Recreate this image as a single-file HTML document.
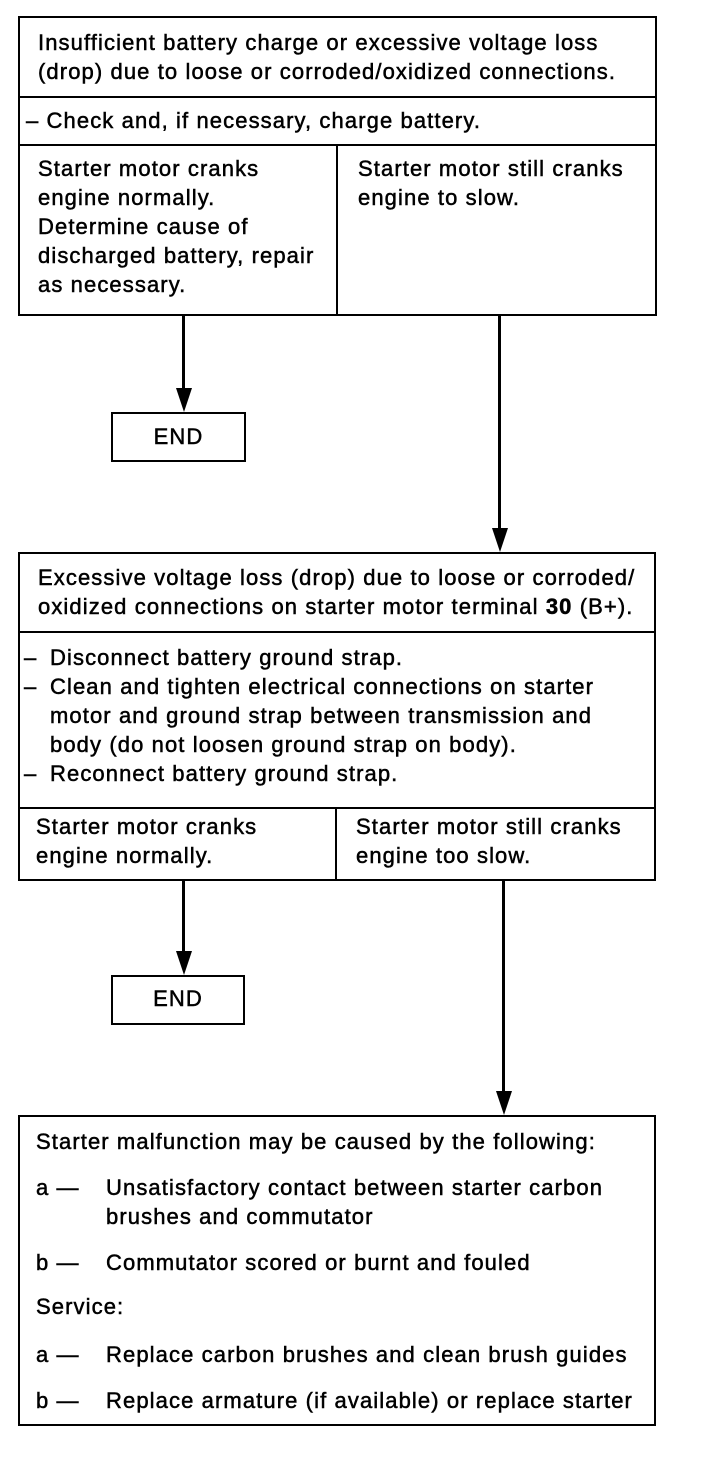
<!DOCTYPE html>
<html><head><meta charset="utf-8"><style>
body{margin:0;background:#fff;width:704px;height:1458px;position:relative;overflow:hidden;font-family:"Liberation Sans",Arial,sans-serif;font-size:22px;letter-spacing:1.1px;color:#000;-webkit-text-stroke:0.5px #000;}
.b{position:absolute;border:2px solid #000;box-sizing:border-box;}
.h{position:absolute;height:2px;background:#000;}
.v{position:absolute;width:2px;background:#000;}
.t{position:absolute;line-height:29px;white-space:nowrap;}
.a{position:absolute;width:3px;background:#000;}
.ah{position:absolute;width:0;height:0;border-left:8px solid transparent;border-right:8px solid transparent;border-top:24px solid #000;}
</style></head><body>
<div class="b" style="left:18px;top:16px;width:639px;height:300px"></div>
<div class="h" style="left:18px;top:96px;width:639px"></div>
<div class="h" style="left:18px;top:144px;width:639px"></div>
<div class="v" style="left:336px;top:144px;height:172px"></div>
<div class="t" style="left:38px;top:28px">Insufficient battery charge or excessive voltage loss<br>(drop) due to loose or corroded/oxidized connections.</div>
<div class="t" style="left:26px;top:106px">– Check and, if necessary, charge battery.</div>
<div class="t" style="left:38px;top:154px">Starter motor cranks<br>engine normally.<br>Determine cause of<br>discharged battery, repair<br>as necessary.</div>
<div class="t" style="left:358px;top:154px">Starter motor still cranks<br>engine to slow.</div>
<div class="a" style="left:182px;top:316px;height:76px"></div>
<div class="ah" style="left:176px;top:388px"></div>
<div class="b" style="left:111px;top:412px;width:135px;height:50px"></div>
<div class="t" style="left:111px;top:422px;width:135px;text-align:center">END</div>
<div class="a" style="left:498px;top:316px;height:214px"></div>
<div class="ah" style="left:492px;top:528px"></div>

<div class="b" style="left:18px;top:552px;width:638px;height:329px"></div>
<div class="h" style="left:18px;top:631px;width:638px"></div>
<div class="h" style="left:18px;top:807px;width:638px"></div>
<div class="v" style="left:335px;top:807px;height:74px"></div>
<div class="t" style="left:38px;top:563px">Excessive voltage loss (drop) due to loose or corroded/<br>oxidized connections on starter motor terminal <b>30</b> (B+).</div>
<div class="t" style="left:24px;top:643px">–<br>–<br><br><br>–</div>
<div class="t" style="left:50px;top:643px">Disconnect battery ground strap.<br>Clean and tighten electrical connections on starter<br>motor and ground strap between transmission and<br>body (do not loosen ground strap on body).<br>Reconnect battery ground strap.</div>
<div class="t" style="left:36px;top:812px">Starter motor cranks<br>engine normally.</div>
<div class="t" style="left:356px;top:812px">Starter motor still cranks<br>engine too slow.</div>
<div class="a" style="left:182px;top:881px;height:74px"></div>
<div class="ah" style="left:176px;top:951px"></div>
<div class="b" style="left:111px;top:975px;width:134px;height:50px"></div>
<div class="t" style="left:111px;top:984px;width:134px;text-align:center">END</div>
<div class="a" style="left:502px;top:881px;height:212px"></div>
<div class="ah" style="left:496px;top:1091px"></div>

<div class="b" style="left:18px;top:1115px;width:638px;height:311px"></div>
<div class="t" style="left:36px;top:1127px">Starter malfunction may be caused by the following:</div>
<div class="t" style="left:36px;top:1173px">a —</div>
<div class="t" style="left:106px;top:1173px">Unsatisfactory contact between starter carbon<br>brushes and commutator</div>
<div class="t" style="left:36px;top:1248px">b —</div>
<div class="t" style="left:106px;top:1248px">Commutator scored or burnt and fouled</div>
<div class="t" style="left:36px;top:1292px">Service:</div>
<div class="t" style="left:36px;top:1340px">a —</div>
<div class="t" style="left:106px;top:1340px">Replace carbon brushes and clean brush guides</div>
<div class="t" style="left:36px;top:1386px">b —</div>
<div class="t" style="left:106px;top:1386px">Replace armature (if available) or replace starter</div>
</body></html>
